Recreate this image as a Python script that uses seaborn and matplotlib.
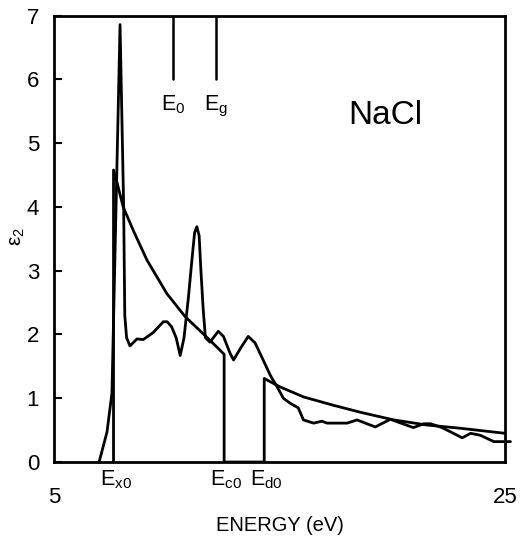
import matplotlib
matplotlib.use("Agg")
import matplotlib.pyplot as plt
import matplotlib.transforms as mtransforms
import seaborn as sns
import pandas as pd

# Measured imaginary dielectric function of NaCl
energy = [6.98, 7.33, 7.55, 7.91, 8.07, 8.12, 8.2, 8.35, 8.66, 8.94, 9.38, 9.83,
          10.0, 10.2, 10.4, 10.58, 10.75, 10.95, 11.1, 11.22, 11.32, 11.42, 11.5,
          11.6, 11.7, 11.9, 12.27, 12.5, 12.8, 12.95, 13.25, 13.6, 13.9, 14.13,
          14.58, 14.88, 15.16, 15.47, 15.82, 16.05, 16.5, 16.87, 17.1, 17.99,
          18.43, 19.24, 19.91, 20.93, 21.4, 21.7, 22.2, 23.1, 23.47, 23.9, 24.5,
          25.24]
eps2 = [0.0, 0.47, 1.08, 6.86, 4.0, 2.3, 1.95, 1.82, 1.93, 1.92, 2.03, 2.2,
        2.2, 2.12, 1.95, 1.67, 1.95, 2.6, 3.17, 3.6, 3.69, 3.55, 3.0,
        2.4, 1.95, 1.88, 2.05, 1.97, 1.7, 1.6, 1.78, 1.97, 1.87, 1.7,
        1.36, 1.18, 1.0, 0.92, 0.85, 0.66, 0.61, 0.64, 0.61, 0.61,
        0.66, 0.55, 0.67, 0.54, 0.6, 0.6, 0.54, 0.38, 0.45, 0.42, 0.32,
        0.32]

# Model spectrum (piecewise, with edges at Ex0, Ec0 and Ed0)
model_energy = [7.62, 7.62, 7.77, 8.05, 8.5, 9.1, 9.99, 10.8, 11.9, 12.53, 12.53,
                14.31, 14.31, 15.0, 16.06, 17.38, 18.58, 20.06, 21.54, 23.0, 25.0]
model_eps2 = [0.0, 4.58, 4.39, 4.0, 3.63, 3.17, 2.64, 2.28, 1.91, 1.69, 0.0,
              0.0, 1.31, 1.18, 1.02, 0.89, 0.78, 0.66, 0.58, 0.53, 0.45]

# Critical-point markers along the bottom axis
edge_labels = ["$\\mathregular{E_{x0}}$", "$\\mathregular{E_{c0}}$", "$\\mathregular{E_{d0}}$"]
edge_pos = [7.62, 12.53, 14.31]

# Markers hanging from the top axis
top_labels = ["$\\mathregular{E_0}$", "$\\mathregular{E_g}$"]
top_pos = [10.28, 12.18]

x_ticks = [5, 25]
y_ticks = [0, 1, 2, 3, 4, 5, 6, 7]

sns.set_theme(style="ticks")
plt.rcParams["font.family"] = ["Liberation Sans", "DejaVu Sans"]
plt.rcParams["mathtext.fontset"] = "custom"
plt.rcParams["mathtext.rm"] = "Liberation Sans"
for key in ("text.color", "axes.labelcolor", "xtick.color", "ytick.color",
            "xtick.labelcolor", "ytick.labelcolor"):
    plt.rcParams[key] = "black"

fig = plt.figure(figsize=(5.25, 5.41), dpi=100)
ax = fig.add_axes([0.1038, 0.146, 0.8582, 0.825])

meas = pd.DataFrame({"E": energy, "eps2": eps2})
model = pd.DataFrame({"E": model_energy, "eps2": model_eps2})

sns.lineplot(data=meas, x="E", y="eps2", sort=False, estimator=None,
             color="black", linewidth=2.0, ax=ax, clip_on=False)
sns.lineplot(data=model, x="E", y="eps2", sort=False, estimator=None,
             color="black", linewidth=2.0, ax=ax)

for xp in top_pos:
    ax.plot([xp, xp], [6, 7], color="black", linewidth=1.8)
for xp, lab in zip(top_pos, top_labels):
    ax.text(xp, 5.78, lab, ha="center", va="top", fontsize=15.5)

trans = mtransforms.blended_transform_factory(ax.transData, ax.transAxes)
for xp, lab in zip(edge_pos, edge_labels):
    ax.text(xp + 0.1, -0.015, lab, transform=trans, ha="center", va="top",
            fontsize=15.5)

ax.text(19.69, 5.44, "NaCl", ha="center", va="center", fontsize=24)

ax.set_xlim(5, 25)
ax.set_ylim(0, 7)
ax.set_xticks(x_ticks)
ax.set_yticks(y_ticks)
ax.tick_params(axis="x", length=0, pad=18, labelsize=16)
ax.tick_params(axis="y", direction="in", length=6, width=1.5, pad=11,
               labelsize=16)
for sp in ax.spines.values():
    sp.set_visible(True)
    sp.set_linewidth(2.0)
    sp.set_color("black")

ax.set_xlabel("ENERGY (eV)", fontsize=14.5, labelpad=6)
ax.set_ylabel("$\\mathregular{ε_2}$", fontsize=15)
ax.yaxis.set_label_coords(-0.06, 0.505)

fig.savefig("out.png", dpi=100)
